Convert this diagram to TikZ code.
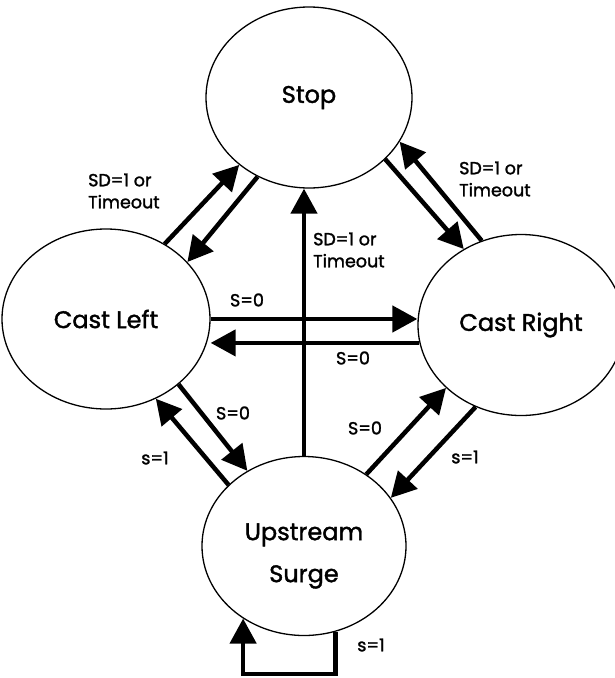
\documentclass[tikz,border=0pt]{standalone}
\usepackage{fontspec}
\setmainfont{Poppins}[FakeBold=1.6]
\usetikzlibrary{shapes.geometric,arrows.meta}
\begin{document}
\begin{tikzpicture}[x=1pt,y=-1pt,
  state/.style={ellipse,draw,line width=1.3pt,minimum width=206pt,minimum height=181pt,
    inner sep=0pt,font=\fontsize{24}{28}\selectfont},
  trans/.style={line width=4.5pt,-{Triangle[length=25pt,width=26pt]}},
  cond/.style={font=\fontsize{17.5}{22}\selectfont,align=left,inner sep=0pt}]
\useasboundingbox[fill=white] (0,0) rectangle (615,678);

% states
\node[state] (stop) at (309,97.5) {Stop};
\node[state,minimum width=208pt,minimum height=180pt] (cl) at (106,319) {Cast Left};
\node[state] (cr) at (521,325) {Cast Right};
\node[state,minimum width=204pt,minimum height=179pt,
  label={[name=uplbl,align=center,font=\fontsize{24}{42}\selectfont,yshift=-10pt]center:Upstream\\Surge}]
  (up) at (304,546) {};

% transitions between Stop and the cast states
\draw[trans] (cl.52.5) -- (stop.224);
\draw[trans] (stop.237) -- (cl.35);
\draw[trans] (stop.321) -- (cr.127);
\draw[trans] (cr.115) -- (stop.334);

% surge back to stop
\draw[trans] (up.north) -- (up.north |- stop.south);

% casting left <-> right
\draw[trans] (cl.east) -- (cl.east -| cr.west);
\draw[trans] (cr.190) -- (cr.190 -| cl.east);

% casting <-> surge
\draw[trans] (cl.318) -- (up.127);
\draw[trans] (up.141) -- (cl.302);
\draw[trans] (up.49) -- (cr.220.5);
\draw[trans] (cr.241) -- (up.29);

% surge self loop
\draw[trans,line join=miter] (up.290) -- ++(0,42) coordinate (loopc) -| (up.230);

% transition conditions
\node[cond,anchor=west] (cL) at (88,191) {SD=1 or\\Timeout};
\node[cond,anchor=west] (cR) at (459,179) {SD=1 or\\Timeout};
\node[cond,anchor=west] (cM) at (313,250) {SD=1 or\\Timeout};
\node[cond] (s0a) at (247,300) {S=0};
\node[cond] (s0b) at (353,358) {S=0};
\node[cond] (s0c) at (233,413) {S=0};
\node[cond] (s1a) at (155,458) {s=1};
\node[cond] (s0d) at (365,428) {S=0};
\node[cond] (s1b) at (465,457) {s=1};
\node[cond] (s1c) at (371,645) {s=1};
\end{tikzpicture}
\end{document}
